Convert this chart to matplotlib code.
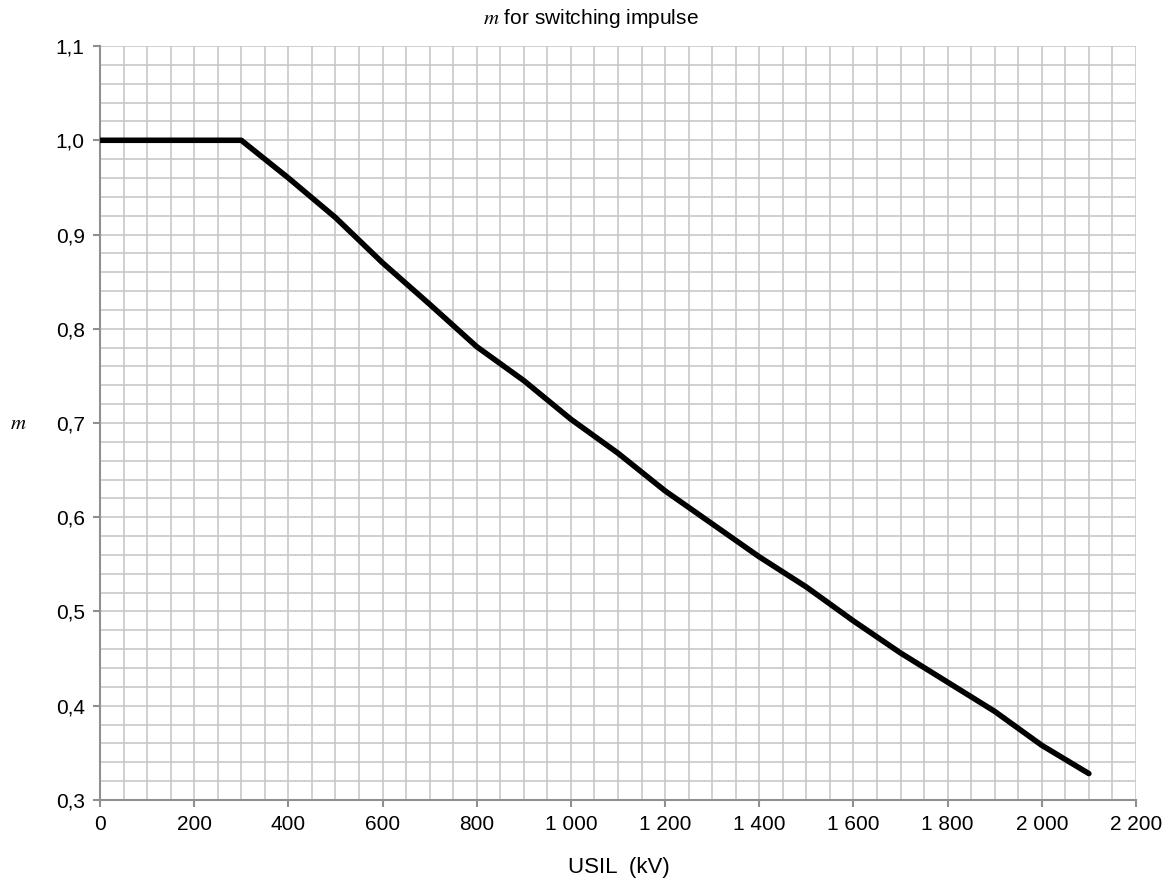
import numpy as np
import matplotlib.pyplot as plt
from matplotlib.ticker import FuncFormatter, MultipleLocator

plt.rcParams['font.family'] = ['Liberation Sans', 'DejaVu Sans']

# curve of m against USIL
usil = [0, 300, 400, 500, 600, 700, 800, 900, 1000, 1100, 1200, 1300, 1400,
        1500, 1600, 1700, 1800, 1900, 2000, 2100]
m_vals = [1.0, 1.0, 0.96, 0.918, 0.870, 0.826, 0.781, 0.745, 0.704, 0.668,
          0.628, 0.593, 0.558, 0.526, 0.490, 0.456, 0.425, 0.394, 0.358, 0.328]

fig = plt.figure(figsize=(11.74, 8.82), dpi=100)
ax = fig.add_axes([0.0852, 0.093, 0.8824, 0.8548])

ax.plot(usil, m_vals, color='black', lw=4, solid_capstyle='round', zorder=3)

ax.set_xlim(0, 2200)
ax.set_ylim(0.3, 1.1)
ax.xaxis.set_major_locator(MultipleLocator(200))
ax.xaxis.set_minor_locator(MultipleLocator(50))
ax.yaxis.set_major_locator(MultipleLocator(0.1))
ax.yaxis.set_minor_locator(MultipleLocator(0.02))

ax.xaxis.set_major_formatter(FuncFormatter(lambda v, p: f'{int(round(v)):,}'.replace(',', ' ')))
ax.yaxis.set_major_formatter(FuncFormatter(lambda v, p: f'{v:.1f}'.replace('.', ',')))

ax.grid(which='both', color='#c8c8c8', lw=1.2)
ax.set_axisbelow(True)
ax.tick_params(which='major', length=5, width=1.5, color='#909090', labelsize=15, pad=6)
ax.tick_params(which='minor', length=0)
for s in ['top', 'right']:
    ax.spines[s].set_visible(False)
for s in ['left', 'bottom']:
    ax.spines[s].set_color('#909090')
    ax.spines[s].set_linewidth(1.5)

fig.text(0.503, 0.979, r'$m$ for switching impulse', ha='center', va='center', fontsize=15,
         math_fontfamily='stix')
fig.text(0.527, 0.016, 'USIL  (kV)', ha='center', va='center', fontsize=16)
fig.text(0.016, 0.52, r'$m$', ha='center', va='center', fontsize=15, math_fontfamily='stix')

fig.savefig('out.png', dpi=100)
